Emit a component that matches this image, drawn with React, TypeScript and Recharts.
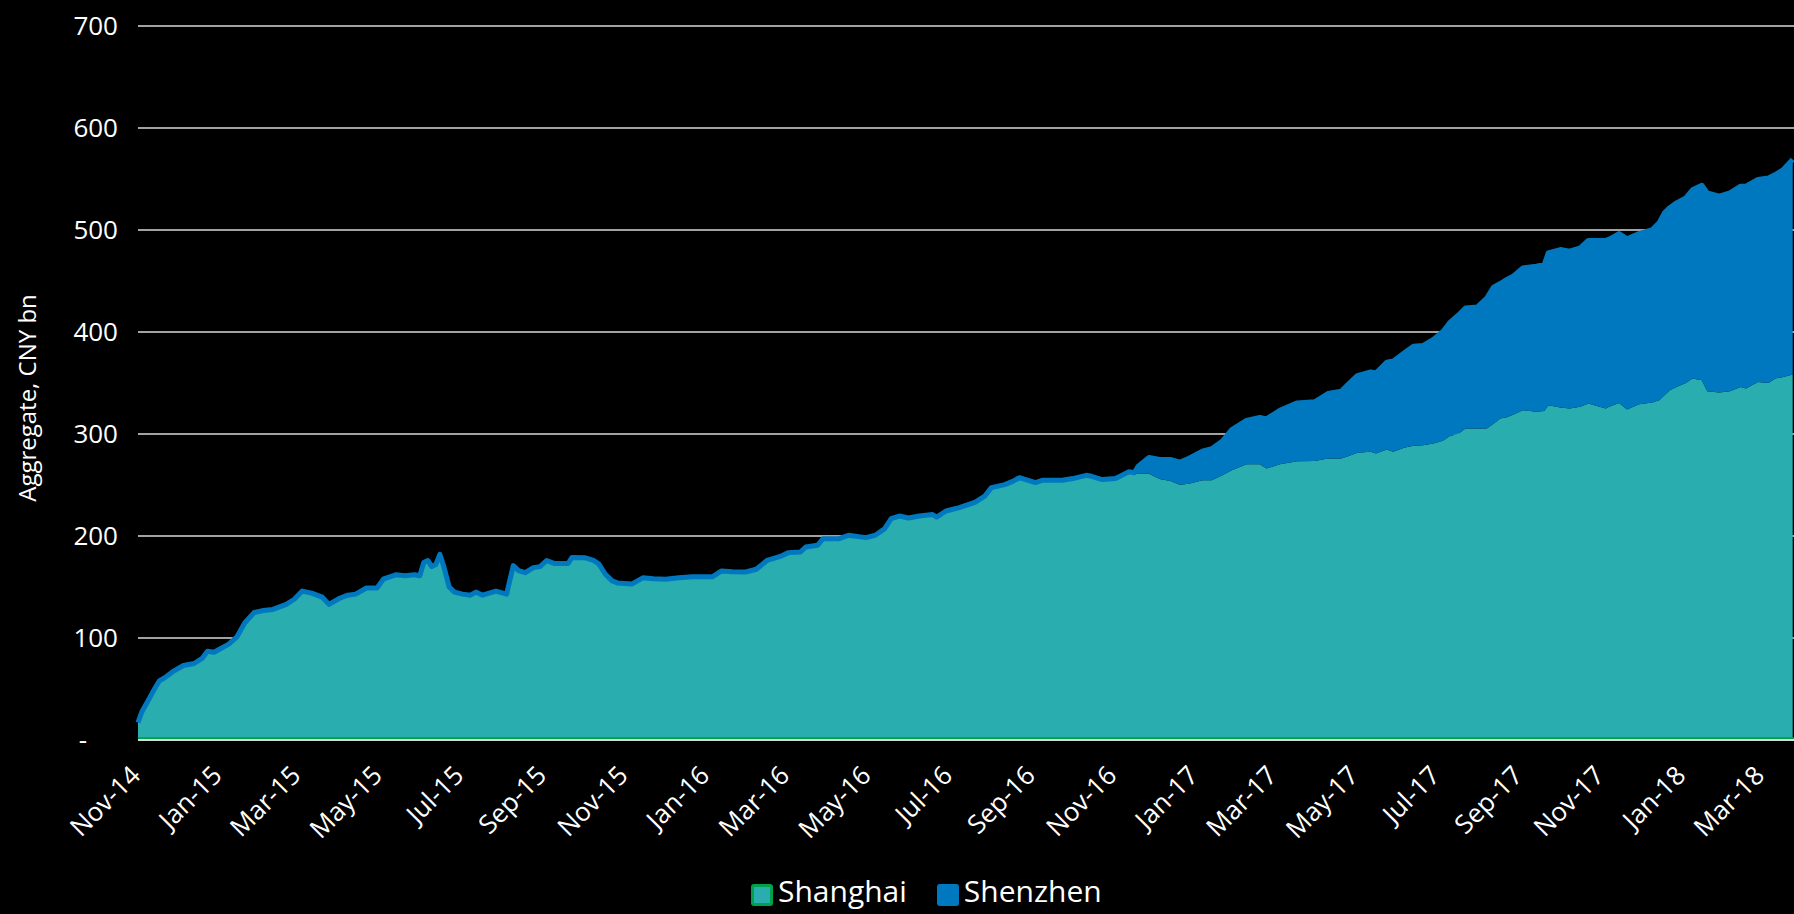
import { AreaChart, Area, XAxis, YAxis, CartesianGrid, Legend, ReferenceLine, Label } from 'recharts';

// daily aggregate, roughly weekly samples (CNY bn)
const dates = [
  '2014-11-17', '2014-11-20', '2014-11-26', '2014-11-28', '2014-12-03', '2014-12-08', '2014-12-13', '2014-12-21',
  '2014-12-29', '2015-01-04', '2015-01-08', '2015-01-13', '2015-01-17', '2015-01-24', '2015-01-30', '2015-02-05',
  '2015-02-12', '2015-02-19', '2015-02-26', '2015-03-08', '2015-03-14', '2015-03-20', '2015-03-27', '2015-04-04',
  '2015-04-09', '2015-04-17', '2015-04-23', '2015-04-29', '2015-05-07', '2015-05-15', '2015-05-20', '2015-05-29',
  '2015-06-05', '2015-06-12', '2015-06-16', '2015-06-19', '2015-06-22', '2015-06-25', '2015-06-28', '2015-07-01',
  '2015-07-04', '2015-07-08', '2015-07-12', '2015-07-18', '2015-07-24', '2015-07-28', '2015-08-02', '2015-08-07',
  '2015-08-12', '2015-08-20', '2015-08-25', '2015-08-29', '2015-09-03', '2015-09-09', '2015-09-14', '2015-09-19',
  '2015-09-25', '2015-10-05', '2015-10-08', '2015-10-18', '2015-10-24', '2015-10-28', '2015-11-02', '2015-11-07',
  '2015-11-11', '2015-11-22', '2015-11-30', '2015-12-08', '2015-12-17', '2015-12-27', '2016-01-06', '2016-01-21',
  '2016-01-28', '2016-02-05', '2016-02-15', '2016-02-23', '2016-03-02', '2016-03-12', '2016-03-18', '2016-03-27',
  '2016-03-31', '2016-04-09', '2016-04-13', '2016-04-25', '2016-05-02', '2016-05-15', '2016-05-22', '2016-05-29',
  '2016-06-03', '2016-06-09', '2016-06-16', '2016-06-24', '2016-07-04', '2016-07-07', '2016-07-14', '2016-07-24',
  '2016-08-05', '2016-08-12', '2016-08-17', '2016-08-27', '2016-09-02', '2016-09-07', '2016-09-19', '2016-09-24',
  '2016-10-09', '2016-10-17', '2016-10-27', '2016-10-31', '2016-11-08', '2016-11-18', '2016-11-28', '2016-12-02',
  '2016-12-05', '2016-12-13', '2016-12-21', '2016-12-29', '2017-01-05', '2017-01-12', '2017-01-22', '2017-01-29',
  '2017-02-06', '2017-02-13', '2017-02-24', '2017-03-06', '2017-03-11', '2017-03-21', '2017-04-03', '2017-04-16',
  '2017-04-26', '2017-05-06', '2017-05-11', '2017-05-18', '2017-05-28', '2017-06-01', '2017-06-09', '2017-06-14',
  '2017-06-22', '2017-06-29', '2017-07-06', '2017-07-14', '2017-07-21', '2017-07-26', '2017-08-02', '2017-08-07',
  '2017-08-16', '2017-08-23', '2017-08-28', '2017-09-02', '2017-09-07', '2017-09-12', '2017-09-19', '2017-09-29',
  '2017-10-05', '2017-10-08', '2017-10-17', '2017-10-24', '2017-11-01', '2017-11-07', '2017-11-20', '2017-11-23',
  '2017-11-30', '2017-12-06', '2017-12-15', '2017-12-25', '2017-12-30', '2018-01-03', '2018-01-07', '2018-01-12',
  '2018-01-19', '2018-01-24', '2018-01-31', '2018-02-04', '2018-02-13', '2018-02-21', '2018-03-01', '2018-03-05',
  '2018-03-14', '2018-03-22', '2018-03-27', '2018-04-02', '2018-04-09',
];

const shanghai = [
  17, 28, 42, 47, 58, 62, 67, 73,
  75, 80, 87, 86, 89, 94, 101, 115,
  125, 127, 128, 133, 138, 146, 144, 140,
  133, 139, 142, 143, 149, 149, 158, 162,
  161, 162, 161, 174, 176, 170, 172, 182,
  170, 150, 145, 143, 142, 145, 142, 144,
  146, 143, 171, 166, 164, 169, 170, 176,
  173, 173, 179, 178.6, 176, 172.7, 162.5, 156,
  154, 153, 159, 158, 157.5, 159, 160, 160,
  165.7, 165, 164.7, 167.4, 176, 180, 183.7, 184.3,
  189.2, 191, 197.4, 197.4, 200.7, 198.4, 200.7, 207,
  217, 219.6, 217.6, 219.6, 221, 218.6, 224.5, 227.8,
  233.3, 239, 247.4, 250.4, 253.6, 257.2, 252.4, 254.6,
  254.6, 256.3, 259.5, 258.5, 255.3, 256.3, 263, 262,
  261, 261, 256, 254, 250.3, 251.3, 254.6, 254.6,
  259.5, 264.4, 270.3, 270.3, 266.1, 270.3, 273.3, 273.6,
  275.9, 275.9, 278.2, 281.5, 282.5, 280.8, 284.8, 282.5,
  286.4, 288.4, 289, 290.7, 293.3, 297.9, 300.5, 305.3,
  305.3, 305.3, 310, 315.1, 316.5, 319, 323.3, 321.7,
  322.6, 328.2, 326, 324.9, 326.6, 329.8, 324.9, 327,
  330.5, 323.9, 329.2, 331, 333.1, 338, 342.9, 346,
  350, 354.4, 352.7, 341.9, 340.6, 342, 346.2, 344.6,
  351, 350.1, 354.4, 356, 358.3,
];

const shenzhen = [
  0, 0, 0, 0, 0, 0, 0, 0,
  0, 0, 0, 0, 0, 0, 0, 0,
  0, 0, 0, 0, 0, 0, 0, 0,
  0, 0, 0, 0, 0, 0, 0, 0,
  0, 0, 0, 0, 0, 0, 0, 0,
  0, 0, 0, 0, 0, 0, 0, 0,
  0, 0, 0, 0, 0, 0, 0, 0,
  0, 0, 0, 0, 0, 0, 0, 0,
  0, 0, 0, 0, 0, 0, 0, 0,
  0, 0, 0, 0, 0, 0, 0, 0,
  0, 0, 0, 0, 0, 0, 0, 0,
  0, 0, 0, 0, 0, 0, 0, 0,
  0, 0, 0, 0, 0, 0, 0, 0,
  0, 0, 0, 0, 0, 0, 0, 0,
  7.5, 16, 19, 21, 22, 25, 28.5, 31,
  33.5, 40, 43, 46, 48.7, 53, 57.2, 58,
  63.8, 66, 70.3, 75.8, 78.4, 79, 85.6, 89,
  93, 97.7, 97.7, 102, 107, 111, 116.5, 118.3,
  119.3, 128, 134, 132.4, 135, 136, 139.5, 142.8,
  143.5, 149.4, 154.8, 154.3, 155.9, 160, 165, 164.3,
  166, 167.4, 167.3, 169.4, 174, 178.8, 179, 180.6,
  181.5, 185, 191.2, 194.5, 192.6, 194.4, 196.7, 198.3,
  198.5, 201, 200, 203.3, 210.8,
];

const tickDates = [
  '2014-11-17', '2015-01-17', '2015-03-17', '2015-05-17', '2015-07-17', '2015-09-17', '2015-11-17',
  '2016-01-17', '2016-03-17', '2016-05-17', '2016-07-17', '2016-09-17', '2016-11-17', '2017-01-17',
  '2017-03-17', '2017-05-17', '2017-07-17', '2017-09-17', '2017-11-17', '2018-01-17', '2018-03-17',
];
const yTicks = [0, 100, 200, 300, 400, 500, 600, 700];

const TEAL = '#29adae';
const BLUE = '#0078bf';
const GREEN = '#00a14b';
const GRID = '#d9d9d9';
const FONT = '"Open Sans", "Noto Sans", sans-serif';
const MONTHS = ['Jan', 'Feb', 'Mar', 'Apr', 'May', 'Jun', 'Jul', 'Aug', 'Sep', 'Oct', 'Nov', 'Dec'];

const toTime = (d: string) => {
  const [y, m, dd] = d.split('-').map(Number);
  return Date.UTC(y, m - 1, dd);
};
const fmtDate = (t: number) => {
  const d = new Date(t);
  return `${MONTHS[d.getUTCMonth()]}-${String(d.getUTCFullYear()).slice(2)}`;
};

const data = dates.map((d, i) => ({ t: toTime(d), shanghai: shanghai[i], shenzhen: shenzhen[i] }));
const xDomain = [toTime('2014-11-17'), toTime('2018-04-10')];

const XTick = ({ x, y, payload }: any) => (
  <text transform={`translate(${x + 4},${y + 29}) rotate(-45)`} textAnchor="end" fill="#fff" fontSize={26}>
    {fmtDate(payload.value)}
  </text>
);

const YTick = ({ x, y, payload }: any) => (
  <text x={payload.value === 0 ? x - 31 : x} y={y} dy="0.355em" textAnchor="end" fill="#fff" fontSize={26}>
    {payload.value === 0 ? '-' : payload.value}
  </text>
);

const box = { width: 22, height: 22, boxSizing: 'border-box' as const, borderRadius: 3, marginTop: 8, marginRight: 5 };

const LegendContent = () => (
  <div style={{ display: 'flex', alignItems: 'flex-start', fontFamily: FONT, fontSize: 30, lineHeight: '30px', color: '#fff' }}>
    <span style={{ ...box, background: TEAL, border: `3px solid ${GREEN}` }} />
    <span>Shanghai</span>
    <span style={{ ...box, background: BLUE, marginLeft: 30 }} />
    <span>Shenzhen</span>
  </div>
);

export default function App() {
  return (
    <div style={{ position: 'absolute', left: 0, top: 0, width: 1794, height: 914, background: '#000', fontFamily: FONT }}>
      <AreaChart width={1794} height={914} data={data} margin={{ top: 26, right: 0, bottom: 0, left: 0 }}>
        <CartesianGrid horizontal vertical={false} stroke={GRID} strokeWidth={1.5} />
        <XAxis
          dataKey="t"
          type="number"
          domain={xDomain}
          ticks={tickDates.map(toTime)}
          tick={<XTick />}
          tickLine={false}
          axisLine={{ stroke: GRID, strokeWidth: 2 }}
          height={174}
          interval={0}
        />
        <YAxis
          domain={[0, 700]}
          ticks={yTicks}
          tick={<YTick />}
          tickLine={false}
          axisLine={false}
          tickMargin={14}
          width={138}
        >
          <Label
            content={({ viewBox }: any) => {
              const cx = viewBox.x + 26;
              const cy = viewBox.y + viewBox.height / 2 + 15;
              return (
                <text x={cx} y={cy} transform={`rotate(-90, ${cx}, ${cy})`} textAnchor="middle" dominantBaseline="central" fill="#fff" fontSize={24}>
                  Aggregate, CNY bn
                </text>
              );
            }}
          />
        </YAxis>
        <Area type="linear" dataKey="shanghai" name="Shanghai" stackId="1" fill={TEAL} fillOpacity={1} stroke="none" isAnimationActive={false} />
        <Area type="linear" dataKey="shenzhen" name="Shenzhen" stackId="1" fill={BLUE} fillOpacity={1} stroke={BLUE} strokeWidth={5} strokeLinejoin="round" isAnimationActive={false} />
        <ReferenceLine
          y={0}
          stroke={GREEN}
          strokeWidth={2}
          shape={(p: any) => <line x1={p.x1} y1={p.y1 - 1.7} x2={p.x2} y2={p.y2 - 1.7} stroke={GREEN} strokeWidth={2} />}
        />
        <Legend verticalAlign="middle" align="center" layout="horizontal" content={<LegendContent />} wrapperStyle={{ left: 751, top: 876, width: 'auto' }} />
      </AreaChart>
    </div>
  );
}
